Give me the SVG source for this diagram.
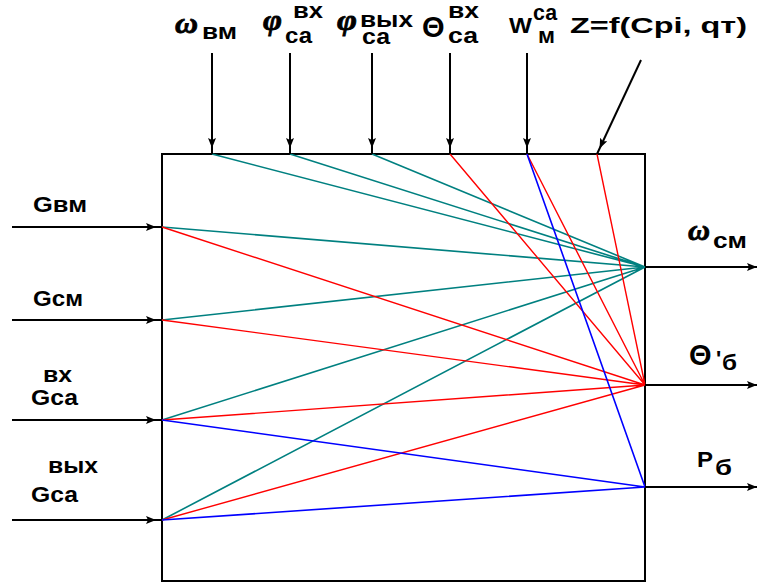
<svg xmlns="http://www.w3.org/2000/svg" width="762" height="583" viewBox="0 0 762 583">
<style>
.t{font-family:"Liberation Sans",Arial,sans-serif;font-weight:bold;font-size:22px;fill:#000}
.g{font-family:"Liberation Serif","Times New Roman",serif;font-weight:bold;font-style:italic;font-size:30px;fill:#000;stroke:#000;stroke-width:0.8}
.th{font-family:"Liberation Sans",Arial,sans-serif;font-weight:bold;font-size:29px;fill:#000}
.ar{stroke:#000;stroke-width:2;fill:none}
.tl{stroke:#008080;stroke-width:1.6;fill:none}
.rd{stroke:#ff0000;stroke-width:1.4;fill:none}
.bl{stroke:#0000ff;stroke-width:1.6;fill:none}
</style>
<defs>
<marker id="arr" markerUnits="userSpaceOnUse" markerWidth="12" markerHeight="10" refX="10" refY="4" orient="auto">
<path d="M0,0 L10,4 L0,8 L2,4 Z" fill="#000"/>
</marker>
<marker id="arrIn" markerUnits="userSpaceOnUse" markerWidth="18" markerHeight="10" refX="16" refY="4" orient="auto">
<path d="M0,0 L10,4 L0,8 L2,4 Z" fill="#000"/>
</marker>
</defs>
<rect width="762" height="583" fill="#fff"/>
<g id="block">
<rect x="162" y="154" width="483" height="427" fill="#fff" stroke="#000" stroke-width="2"/>
</g>
<g id="connectors">
<path class="tl" d="M212,154 L645,267 M290,154 L645,267 M372,154 L645,267 M162,227 L645,267 M162,320 L645,267 M162,420 L645,267 M162,520 L645,267"/>
<path class="rd" d="M450,154 L645,385 M527,154 L645,385 M597,154 L645,385 M162,227 L645,385 M162,320 L645,385 M162,420 L645,385 M162,520 L645,385"/>
<path class="bl" d="M527,154 L645,487 M162,420 L645,487 M162,520 L645,487"/>
<line class="ar" x1="212" y1="53" x2="212" y2="154" marker-end="url(#arrIn)"/>
<line class="ar" x1="290" y1="53" x2="290" y2="154" marker-end="url(#arrIn)"/>
<line class="ar" x1="372" y1="53" x2="372" y2="154" marker-end="url(#arrIn)"/>
<line class="ar" x1="450" y1="53" x2="450" y2="154" marker-end="url(#arrIn)"/>
<line class="ar" x1="527" y1="53" x2="527" y2="154" marker-end="url(#arrIn)"/>
<line class="ar" x1="641" y1="60" x2="597" y2="154" marker-end="url(#arrIn)" stroke-width="1.5"/>
<line class="ar" x1="12" y1="227" x2="162" y2="227" marker-end="url(#arrIn)"/>
<line class="ar" x1="12" y1="320" x2="162" y2="320" marker-end="url(#arrIn)"/>
<line class="ar" x1="12" y1="420" x2="162" y2="420" marker-end="url(#arrIn)"/>
<line class="ar" x1="12" y1="520" x2="162" y2="520" marker-end="url(#arrIn)"/>
<line class="ar" x1="645" y1="267" x2="757" y2="267" marker-end="url(#arr)"/>
<line class="ar" x1="645" y1="385" x2="757" y2="385" marker-end="url(#arr)"/>
<line class="ar" x1="645" y1="487" x2="757" y2="487" marker-end="url(#arr)"/>
</g>
<g id="in-wvm">
<text class="g" x="175" y="33" textLength="23" lengthAdjust="spacingAndGlyphs">ω</text>
<text class="t" x="202" y="39" textLength="35" lengthAdjust="spacingAndGlyphs">вм</text>
</g>
<g id="in-phi-vx">
<text class="g" x="263" y="30" textLength="19" lengthAdjust="spacingAndGlyphs">φ</text>
<text class="t" x="293" y="18" font-size="19" textLength="30" lengthAdjust="spacingAndGlyphs">вх</text>
<text class="t" x="285" y="43" textLength="27" lengthAdjust="spacingAndGlyphs">са</text>
</g>
<g id="in-phi-vyx">
<text class="g" x="337" y="30" textLength="20" lengthAdjust="spacingAndGlyphs">φ</text>
<text class="t" x="360" y="27" font-size="20" textLength="53" lengthAdjust="spacingAndGlyphs">вых</text>
<text class="t" x="362" y="44" font-size="20" textLength="28" lengthAdjust="spacingAndGlyphs">са</text>
</g>
<g id="in-theta">
<text class="th" x="422" y="37">Θ</text>
<text class="t" x="448" y="18" font-size="19" textLength="31" lengthAdjust="spacingAndGlyphs">вх</text>
<text class="t" x="448" y="43" textLength="30" lengthAdjust="spacingAndGlyphs">са</text>
</g>
<g id="in-w">
<text class="t" x="509" y="33" font-size="23" textLength="23" lengthAdjust="spacingAndGlyphs">W</text>
<text class="t" x="533" y="20" textLength="24" lengthAdjust="spacingAndGlyphs">са</text>
<text class="t" x="538" y="43" textLength="17" lengthAdjust="spacingAndGlyphs">м</text>
</g>
<g id="in-z">
<text class="t" x="570" y="33" textLength="177" lengthAdjust="spacingAndGlyphs">Z=f(Cpi, qт)</text>
</g>
<g id="in-gvm">
<text class="t" x="33" y="212" font-size="24" textLength="54" lengthAdjust="spacingAndGlyphs">Gвм</text>
</g>
<g id="in-gsm">
<text class="t" x="33" y="306" font-size="24" textLength="50" lengthAdjust="spacingAndGlyphs">Gсм</text>
</g>
<g id="in-gca-vx">
<text class="t" x="43" y="382" textLength="29" lengthAdjust="spacingAndGlyphs">вх</text>
<text class="t" x="31" y="405" font-size="24" textLength="47" lengthAdjust="spacingAndGlyphs">Gса</text>
</g>
<g id="in-gca-vyx">
<text class="t" x="48" y="473" textLength="50" lengthAdjust="spacingAndGlyphs">вых</text>
<text class="t" x="31" y="502" font-size="24" textLength="47" lengthAdjust="spacingAndGlyphs">Gса</text>
</g>
<g id="out-wsm">
<text class="g" x="688" y="240" textLength="22" lengthAdjust="spacingAndGlyphs">ω</text>
<text class="t" x="713" y="248" textLength="34" lengthAdjust="spacingAndGlyphs">см</text>
</g>
<g id="out-theta">
<text class="th" x="689" y="365">Θ</text>
<text class="t" x="716" y="366" font-size="16">'</text>
<text class="t" x="722" y="370" textLength="15" lengthAdjust="spacingAndGlyphs">б</text>
</g>
<g id="out-p">
<text class="t" x="697" y="467" font-size="25" textLength="16" lengthAdjust="spacingAndGlyphs">P</text>
<text class="t" x="715" y="475" textLength="17" lengthAdjust="spacingAndGlyphs">б</text>
</g>
</svg>
